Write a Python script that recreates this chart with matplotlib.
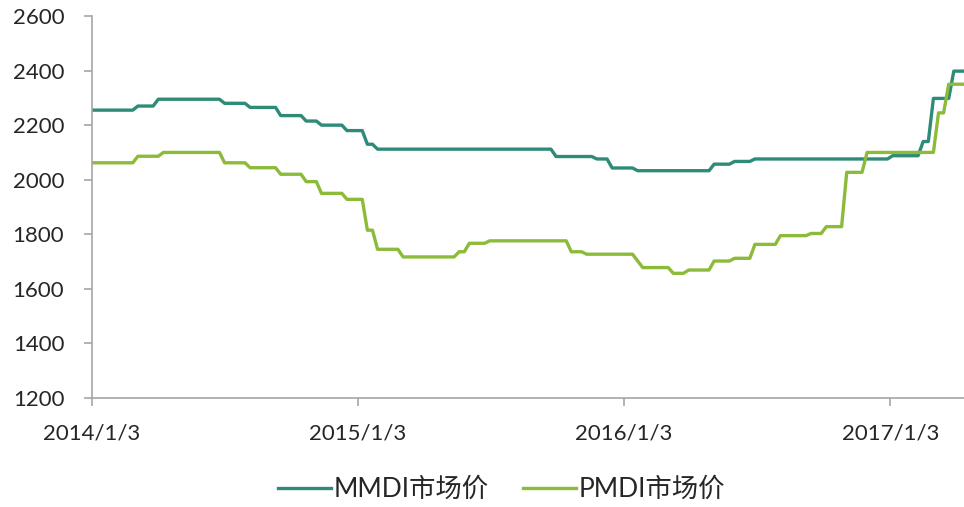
import matplotlib
matplotlib.use("Agg")
import matplotlib.pyplot as plt
import pandas as pd

plt.rcParams['font.family'] = ['Lato', 'Noto Sans CJK SC', 'DejaVu Sans']

# MMDI 市场价 (turning points of the weekly series)
mmdi_dates = ["2014-01-03", "2014-02-28", "2014-03-07", "2014-03-28", "2014-04-04",
              "2014-06-27", "2014-07-04", "2014-08-01", "2014-08-08", "2014-09-12",
              "2014-09-19", "2014-10-17", "2014-10-24", "2014-11-07", "2014-11-14",
              "2014-12-12", "2014-12-19", "2015-01-09", "2015-01-16", "2015-01-23",
              "2015-01-30", "2015-09-25", "2015-10-02", "2015-11-20", "2015-11-27",
              "2015-12-11", "2015-12-18", "2016-01-15", "2016-01-22", "2016-04-29",
              "2016-05-06", "2016-05-27", "2016-06-03", "2016-06-24", "2016-07-01",
              "2016-12-30", "2017-01-06", "2017-02-10", "2017-02-17", "2017-02-24",
              "2017-03-03", "2017-03-24", "2017-03-31", "2017-04-14"]
mmdi_values = [2255, 2255, 2270, 2270, 2295,
               2295, 2280, 2280, 2265, 2265,
               2235, 2235, 2215, 2215, 2200,
               2200, 2180, 2180, 2130, 2130,
               2112, 2112, 2085, 2085, 2076,
               2076, 2043, 2043, 2033, 2033,
               2057, 2057, 2067, 2067, 2076,
               2076, 2088, 2088, 2140, 2140,
               2298, 2298, 2398, 2398]

# PMDI 市场价
pmdi_dates = ["2014-01-03", "2014-02-28", "2014-03-07", "2014-04-04", "2014-04-11",
              "2014-06-27", "2014-07-04", "2014-08-01", "2014-08-08", "2014-09-12",
              "2014-09-19", "2014-10-17", "2014-10-24", "2014-11-07", "2014-11-14",
              "2014-12-12", "2014-12-19", "2015-01-09", "2015-01-16", "2015-01-23",
              "2015-01-30", "2015-02-27", "2015-03-06", "2015-05-15", "2015-05-22",
              "2015-05-29", "2015-06-05", "2015-06-26", "2015-07-03", "2015-10-16",
              "2015-10-23", "2015-11-06", "2015-11-13", "2016-01-15", "2016-01-29",
              "2016-03-04", "2016-03-11", "2016-03-25", "2016-04-01", "2016-04-29",
              "2016-05-06", "2016-05-27", "2016-06-03", "2016-06-24", "2016-07-01",
              "2016-07-29", "2016-08-05", "2016-09-09", "2016-09-16", "2016-09-30",
              "2016-10-07", "2016-10-28", "2016-11-04", "2016-11-25", "2016-12-02",
              "2017-03-03", "2017-03-10", "2017-03-17", "2017-03-24", "2017-04-14"]
pmdi_values = [2062, 2062, 2086, 2086, 2100,
               2100, 2062, 2062, 2044, 2044,
               2020, 2020, 1993, 1993, 1950,
               1950, 1928, 1928, 1815, 1815,
               1745, 1745, 1717, 1717, 1736,
               1736, 1767, 1767, 1776, 1776,
               1736, 1736, 1727, 1727, 1678,
               1678, 1657, 1657, 1669, 1669,
               1702, 1702, 1712, 1712, 1763,
               1763, 1795, 1795, 1803, 1803,
               1828, 1828, 2027, 2027, 2100,
               2100, 2245, 2245, 2350, 2350]

xtick_dates = ["2014-01-03", "2015-01-03", "2016-01-03", "2017-01-03"]
xtick_labels = ["2014/1/3", "2015/1/3", "2016/1/3", "2017/1/3"]
yticks = [1200, 1400, 1600, 1800, 2000, 2200, 2400, 2600]

fig = plt.figure(figsize=(9.64, 5.07), dpi=100)
ax = fig.add_axes([92 / 964, 1 - 398 / 507, 1 - 92 / 964, (398 - 16) / 507])

ax.plot(pd.to_datetime(mmdi_dates), mmdi_values, color="#2E8B78", lw=2.4,
        label="MMDI市场价", solid_joinstyle="round")
ax.plot(pd.to_datetime(pmdi_dates), pmdi_values, color="#8CBB3A", lw=2.4,
        label="PMDI市场价", solid_joinstyle="round")

ax.set_xlim(pd.Timestamp("2014-01-03"), pd.Timestamp("2017-04-14"))
ax.set_ylim(1200, 2600)
ax.set_yticks(yticks)
ax.set_xticks(pd.to_datetime(xtick_dates))
ax.set_xticklabels(xtick_labels)

for s in ["top", "right"]:
    ax.spines[s].set_visible(False)
for s in ["left", "bottom"]:
    ax.spines[s].set_color("#A6A6A6")
    ax.spines[s].set_linewidth(1.2)
ax.tick_params(axis="y", length=6, width=1.2, color="#A6A6A6", pad=14,
               labelsize=16, labelcolor="#262626")
ax.tick_params(axis="x", length=6, width=1.2, color="#A6A6A6", pad=12,
               labelsize=16, labelcolor="#262626")

fig.legend(loc="center", bbox_to_anchor=(0.52, 0.035), ncol=2, frameon=False,
           fontsize=19, handlelength=2.0, handletextpad=0.1, columnspacing=1.3,
           labelcolor="#262626")

fig.savefig("out.png", dpi=100)
